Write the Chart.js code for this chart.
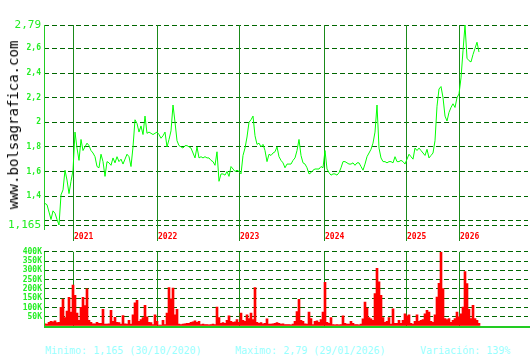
<!DOCTYPE html>
<html><head><meta charset="utf-8">
<script src="https://cdn.jsdelivr.net/npm/chart.js@4/dist/chart.umd.min.js"></script>
<style>
html,body{margin:0;padding:0;background:#fff;width:530px;height:360px;overflow:hidden;}
#wrap{position:relative;width:530px;height:360px;}
canvas{position:absolute;left:0;}
#pc{top:0}
#vc{top:245px}
.foot{position:absolute;top:346px;font:10px "DejaVu Sans Mono",monospace;line-height:10px;color:#99ffff;white-space:pre;}
#wm{position:absolute;left:12.5px;top:125px;transform:translate(-50%,-50%) rotate(-90deg);font:14px "DejaVu Sans Mono",monospace;line-height:14px;color:#000;white-space:nowrap;}
</style></head><body>
<div id="wrap">
<canvas id="pc" width="530" height="245"></canvas>
<canvas id="vc" width="530" height="90"></canvas>
<div id="wm">www.bolsagrafica.com</div>
<div class="foot" style="left:45px">Minimo: 1,165 (30/10/2020)</div>
<div class="foot" style="left:235px">Maximo: 2,79 (29/01/2026)</div>
<div class="foot" style="left:420px">Variación: 139%</div>
</div>
<script>
// ---- data (one entry per trading-session step) ----
const price = [
1.34,1.33,1.27,1.21,1.28,1.26,1.21,1.165,1.41,1.45,
1.61,1.53,1.42,1.52,1.61,1.92,1.79,1.69,1.86,1.77,
1.80,1.83,1.81,1.77,1.75,1.72,1.64,1.63,1.74,1.68,
1.56,1.68,1.67,1.65,1.71,1.67,1.72,1.68,1.70,1.66,
1.70,1.74,1.72,1.64,1.80,2.02,1.99,1.92,1.97,1.90,
2.05,1.91,1.92,1.91,1.90,1.91,1.92,1.90,1.87,1.89,
1.92,1.80,1.86,1.93,2.14,2.00,1.85,1.81,1.80,1.79,
1.81,1.81,1.80,1.79,1.75,1.71,1.80,1.71,1.72,1.71,
1.72,1.71,1.71,1.69,1.68,1.65,1.76,1.52,1.58,1.58,
1.57,1.60,1.56,1.64,1.62,1.60,1.61,1.60,1.58,1.73,
1.79,1.88,2.00,2.02,2.05,1.89,1.82,1.83,1.80,1.82,
1.77,1.68,1.74,1.73,1.75,1.76,1.80,1.72,1.69,1.67,
1.63,1.66,1.66,1.66,1.69,1.71,1.77,1.86,1.73,1.67,
1.66,1.63,1.58,1.59,1.61,1.62,1.62,1.62,1.64,1.63,
1.77,1.62,1.59,1.57,1.58,1.58,1.57,1.59,1.63,1.68,
1.68,1.67,1.66,1.66,1.67,1.65,1.67,1.67,1.64,1.61,
1.66,1.72,1.75,1.78,1.83,1.92,2.14,1.79,1.71,1.68,
1.68,1.67,1.68,1.68,1.67,1.72,1.68,1.68,1.69,1.68,
1.66,1.70,1.74,1.72,1.70,1.79,1.77,1.79,1.77,1.75,
1.73,1.78,1.71,1.73,1.75,1.85,2.13,2.27,2.29,2.20,
2.05,2.01,2.08,2.12,2.15,2.12,2.20,2.23,2.36,2.58,
2.79,2.52,2.50,2.49,2.55,2.60,2.65,2.57
];
const volumeK = [
12,10,20,25,22,28,18,20,100,145,
45,80,155,75,220,165,70,30,100,155,
110,200,30,20,12,12,20,15,15,90,
10,10,12,84,25,47,20,18,10,56,
12,10,30,10,60,125,138,25,35,45,
111,50,20,18,8,60,25,5,5,30,
8,70,207,147,205,60,90,10,8,10,
12,15,15,20,22,28,20,25,8,10,
8,8,6,8,10,8,102,45,15,18,
15,30,55,25,20,22,35,20,70,30,
25,60,40,70,35,207,20,15,18,12,
15,38,10,10,12,15,18,15,10,12,
8,8,8,6,10,25,78,144,30,25,
12,10,75,40,8,25,28,20,35,75,
235,20,15,45,8,6,8,6,8,55,
15,10,10,25,15,8,8,6,10,38,
129,96,45,38,30,175,311,238,166,45,
20,25,45,10,93,15,15,30,15,30,
65,55,60,15,10,25,60,25,30,35,
65,84,75,25,20,60,156,230,400,202,
40,35,40,20,30,40,75,50,65,102,
293,229,90,40,111,40,30,15
];
const yearLabels = ['2021','2022','2023','2024','2025','2026'];
const yearStartIndex = [14.2, 56.2, 97.2, 139.7, 180.7, 207.2];
const priceTicks = [1.165, 1.2, 1.4, 1.6, 1.8, 2.0, 2.2, 2.4, 2.6, 2.79];
const volumeTicksK = [0, 50, 100, 150, 200, 250, 300, 350, 400];
const xMin = -0.5, xMax = 241.5;

const FONT = '"DejaVu Sans Mono", monospace';
const GRID = '#006600';
const YEARLINE = '#1a8a1a';
const AXIS = '#22cc22';
const LABEL = '#22ee22';

function yearLines(chart, y0, y1) {
  const ctx = chart.ctx, x = chart.scales.x;
  ctx.save();
  ctx.strokeStyle = YEARLINE; ctx.lineWidth = 1;
  yearStartIndex.forEach(p => {
    const px = Math.round(x.getPixelForValue(p)) + 0.5;
    ctx.beginPath(); ctx.moveTo(px, y0); ctx.lineTo(px, y1); ctx.stroke();
  });
  ctx.restore();
}

const priceDeco = {
  id: 'priceDeco',
  beforeDatasetsDraw(chart) {
    const a = chart.chartArea;
    yearLines(chart, a.top, a.bottom + 16);
  },
  afterDraw(chart) {
    const ctx = chart.ctx, a = chart.chartArea, x = chart.scales.x;
    ctx.save();
    ctx.strokeStyle = AXIS; ctx.lineWidth = 1;
    ctx.beginPath(); ctx.moveTo(a.left + 0.5, a.top); ctx.lineTo(a.left + 0.5, a.bottom + 5); ctx.stroke();
    ctx.fillStyle = '#ff0000';
    ctx.font = 'bold 8px ' + FONT;
    ctx.textAlign = 'left'; ctx.textBaseline = 'alphabetic';
    yearStartIndex.forEach((p, k) => {
      const px = Math.round(x.getPixelForValue(p)) + 1;
      ctx.fillText(yearLabels[k], px, a.bottom + 14);
    });
    ctx.restore();
  }
};

const volDeco = {
  id: 'volDeco',
  beforeDatasetsDraw(chart) {
    const a = chart.chartArea;
    yearLines(chart, a.top, a.bottom);
  },
  afterDraw(chart) {
    const ctx = chart.ctx, a = chart.chartArea;
    ctx.save();
    ctx.strokeStyle = AXIS; ctx.lineWidth = 1;
    ctx.beginPath(); ctx.moveTo(a.left + 0.5, a.top); ctx.lineTo(a.left + 0.5, a.bottom); ctx.stroke();
    ctx.lineWidth = 2;
    ctx.beginPath(); ctx.moveTo(a.left, a.bottom + 1); ctx.lineTo(530, a.bottom + 1); ctx.stroke();
    ctx.restore();
  }
};

new Chart(document.getElementById('pc'), {
  type: 'line',
  data: { datasets: [{
    data: price.map((v, i) => ({ x: i, y: v })),
    borderColor: '#00ff00', borderWidth: 1, pointRadius: 0, tension: 0, fill: false
  }]},
  options: {
    responsive: false, animation: false,
    layout: { padding: { left: 0, top: 25, right: 2, bottom: 20 } },
    plugins: { legend: { display: false }, tooltip: { enabled: false } },
    scales: {
      x: { type: 'linear', min: xMin, max: xMax, display: false },
      y: {
        min: 1.165, max: 2.79,
        afterBuildTicks: s => { s.ticks = priceTicks.map(v => ({ value: v })); },
        afterFit: s => { s.width = 44; },
        grid: { color: GRID, lineWidth: 1, drawTicks: false },
        border: { display: false, dash: [5, 3] },
        ticks: {
          autoSkip: false, padding: 3, color: LABEL,
          font: c => (c.tick && (c.tick.value === 2.79 || c.tick.value === 1.165))
            ? { family: FONT, size: 11 } : { family: FONT, size: 8, weight: 'bold' },
          callback: v => v === 1.2 ? '' : String(v).replace('.', ',')
        }
      }
    }
  },
  plugins: [priceDeco]
});

new Chart(document.getElementById('vc'), {
  type: 'bar',
  data: { datasets: [{
    data: volumeK.map((v, i) => ({ x: i, y: v })),
    backgroundColor: '#ff0000', borderWidth: 0, barThickness: 2
  }]},
  options: {
    responsive: false, animation: false,
    layout: { padding: { left: 0, top: 6, right: 2, bottom: 9 } },
    plugins: { legend: { display: false }, tooltip: { enabled: false } },
    scales: {
      x: { type: 'linear', min: xMin, max: xMax, offset: false, grid: { offset: false }, display: false },
      y: {
        min: 0, max: 400,
        afterBuildTicks: s => { s.ticks = volumeTicksK.map(v => ({ value: v })); },
        afterFit: s => { s.width = 44; },
        grid: { color: c => (c.tick && c.tick.value === 0) ? 'rgba(0,0,0,0)' : GRID, lineWidth: 1, drawTicks: false },
        border: { display: false, dash: [5, 3] },
        ticks: {
          autoSkip: false, padding: 2, color: LABEL,
          font: { family: FONT, size: 8, weight: 'bold' },
          callback: v => v === 0 ? '' : v + 'K'
        }
      }
    }
  },
  plugins: [volDeco]
});
</script>
</body></html>
